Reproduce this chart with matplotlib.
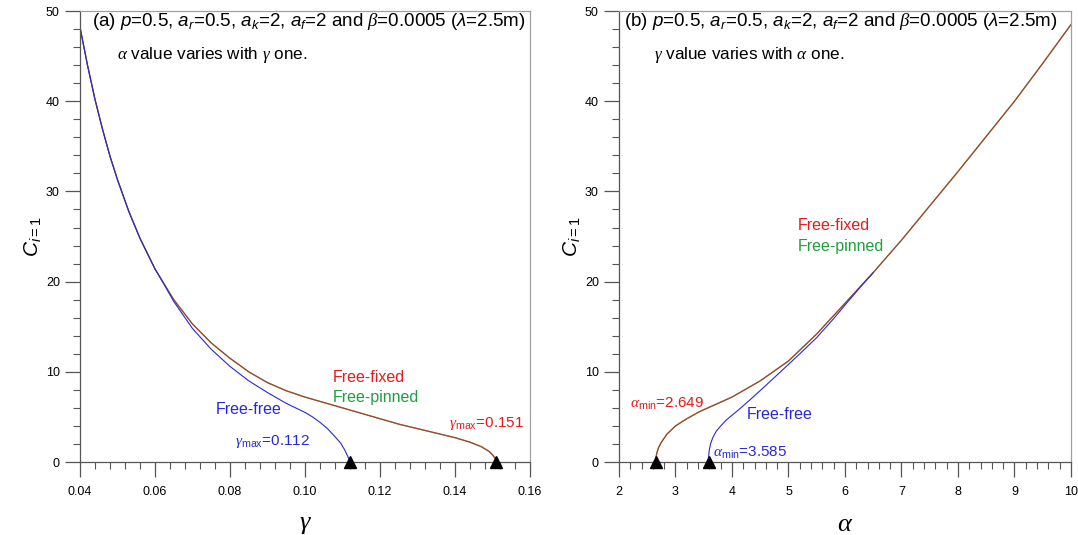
import matplotlib
matplotlib.use("Agg")
import matplotlib.pyplot as plt
from matplotlib.ticker import MultipleLocator, FormatStrFormatter

plt.rcParams['font.family'] = ['Liberation Sans', 'DejaVu Sans']
plt.rcParams['mathtext.fontset'] = 'custom'
plt.rcParams['mathtext.rm'] = 'Liberation Sans'
plt.rcParams['mathtext.it'] = 'Liberation Sans:italic'
plt.rcParams['mathtext.sf'] = 'Liberation Serif:italic'

# ---- panel (a): C vs gamma ----
gam_fixed = [0.040, 0.042, 0.044, 0.046, 0.048, 0.050, 0.053, 0.056, 0.060,
             0.065, 0.070, 0.075, 0.080, 0.085, 0.090, 0.095, 0.100, 0.105,
             0.110, 0.115, 0.120, 0.125, 0.130, 0.135, 0.140, 0.144, 0.147,
             0.149, 0.150, 0.1507, 0.151]
c_fixed_a = [48.2, 44.0, 40.2, 36.9, 33.9, 31.3, 27.8, 24.8, 21.4,
             18.0, 15.3, 13.2, 11.5, 10.0, 8.8, 7.9, 7.2, 6.6,
             6.0, 5.4, 4.8, 4.2, 3.7, 3.2, 2.7, 2.2, 1.7,
             1.2, 0.8, 0.4, 0.0]
gam_free = [0.040, 0.042, 0.044, 0.046, 0.048, 0.050, 0.053, 0.056, 0.060,
            0.062, 0.065, 0.070, 0.075, 0.080, 0.085, 0.090, 0.095, 0.100,
            0.102, 0.104, 0.106, 0.108, 0.1095, 0.1105, 0.1112, 0.1117, 0.112]
c_free_a = [48.2, 44.0, 40.2, 36.9, 33.9, 31.3, 27.8, 24.8, 21.4,
            20.0, 17.8, 14.8, 12.5, 10.6, 9.0, 7.7, 6.5, 5.5,
            5.0, 4.4, 3.7, 2.8, 2.1, 1.4, 0.8, 0.35, 0.0]

# ---- panel (b): C vs alpha ----
alp_fixed = [2.649, 2.655, 2.67, 2.70, 2.75, 2.85, 3.00, 3.20, 3.43, 4.00,
             4.50, 5.00, 5.50, 6.00, 6.50, 7.00, 7.50, 8.00, 8.50, 9.00,
             9.50, 10.0]
c_fixed_b = [0.0, 0.5, 1.0, 1.6, 2.2, 3.1, 4.0, 4.8, 5.6, 7.2,
             9.0, 11.2, 14.2, 17.6, 21.0, 24.6, 28.4, 32.2, 36.1, 40.0,
             44.2, 48.5]
alp_free = [3.585, 3.587, 3.595, 3.62, 3.66, 3.72, 3.80, 3.906, 4.10, 4.32,
            4.60, 4.91, 5.20, 5.50, 5.80, 6.00, 6.30, 6.50]
c_free_b = [0.0, 0.5, 1.2, 2.0, 2.7, 3.4, 4.0, 4.7, 5.7, 6.9,
            8.5, 10.3, 12.0, 13.8, 15.9, 17.4, 19.6, 21.0]

gam_max = [0.112, 0.151]
alp_min = [2.649, 3.585]

RED = '#e31a1c'
GREEN = '#1f9e3f'
BLUE = '#2828d8'

fig = plt.figure(figsize=(10.78, 5.35), dpi=100)
axa = fig.add_axes([0.0742, 0.1364, 0.4175, 0.843])
axb = fig.add_axes([0.5742, 0.1364, 0.4193, 0.843])


def style(ax):
    ax.set_ylim(0, 50)
    ax.yaxis.set_major_locator(MultipleLocator(10))
    ax.yaxis.set_minor_locator(MultipleLocator(2))
    ax.tick_params(which='major', length=10.5, width=0.9, color='#555555',
                   labelsize=9, direction='out')
    ax.tick_params(which='minor', length=5, width=0.8, color='#555555',
                   direction='out')
    ax.tick_params(axis='x', pad=7)
    ax.tick_params(axis='y', pad=4)
    for s in ['left', 'bottom']:
        ax.spines[s].set_color('#555555')
        ax.spines[s].set_linewidth(0.9)
    for s in ['top', 'right']:
        ax.spines[s].set_color('#a0a0a0')
        ax.spines[s].set_linewidth(0.9)
    ax.set_ylabel(r'$C_{i=1}$', fontsize=15, labelpad=1)


def curves(ax, xf, cf, xb, cb):
    ax.plot(xf, cf, color=GREEN, lw=0.9)
    ax.plot(xf, cf, color=RED, lw=0.9, alpha=0.7)
    ax.plot(xb, cb, color=BLUE, lw=0.8)


# panel (a)
style(axa)
axa.set_xlim(0.04, 0.16)
axa.xaxis.set_major_locator(MultipleLocator(0.02))
axa.xaxis.set_minor_locator(MultipleLocator(0.004))
axa.xaxis.set_major_formatter(FormatStrFormatter('%.2f'))
curves(axa, gam_fixed, c_fixed_a, gam_free, c_free_a)
axa.plot(gam_max, [0, 0], '^', color='black', ms=9, clip_on=False, zorder=5)
axa.set_xlabel(r'$\mathsf{\gamma}$', fontsize=19, labelpad=10)
axa.text(0.027, 0.976, r'(a) $p$=0.5, $a_r$=0.5, $a_k$=2, $a_f$=2 and $\mathsf{\beta}$=0.0005 ($\lambda$=2.5m)',
         transform=axa.transAxes, fontsize=13.5, va='center', ha='left')
axa.text(0.082, 0.902, r'$\mathsf{\alpha}$ value varies with $\mathsf{\gamma}$ one.',
         transform=axa.transAxes, fontsize=12.3, va='center', ha='left')
axa.text(0.1075, 9.4, 'Free-fixed', color=RED, fontsize=11.5, va='center')
axa.text(0.1075, 7.2, 'Free-pinned', color=GREEN, fontsize=11.5, va='center')
axa.text(0.0763, 5.8, 'Free-free', color=BLUE, fontsize=11.5, va='center')
axa.text(0.0812, 2.3, r'$\mathsf{\gamma}_{\rm max}$=0.112', color=BLUE, fontsize=11, va='center')
axa.text(0.1383, 4.3, r'$\mathsf{\gamma}_{\rm max}$=0.151', color=RED, fontsize=11, va='center')

# panel (b)
style(axb)
axb.set_xlim(2, 10)
axb.xaxis.set_major_locator(MultipleLocator(1))
axb.xaxis.set_minor_locator(MultipleLocator(0.2))
curves(axb, alp_fixed, c_fixed_b, alp_free, c_free_b)
axb.plot(alp_min, [0, 0], '^', color='black', ms=9, clip_on=False, zorder=5)
axb.set_xlabel(r'$\mathsf{\alpha}$', fontsize=19, labelpad=10)
axb.text(0.011, 0.976, r'(b) $p$=0.5, $a_r$=0.5, $a_k$=2, $a_f$=2 and $\mathsf{\beta}$=0.0005 ($\lambda$=2.5m)',
         transform=axb.transAxes, fontsize=13.5, va='center', ha='left')
axb.text(0.077, 0.902, r'$\mathsf{\gamma}$ value varies with $\mathsf{\alpha}$ one.',
         transform=axb.transAxes, fontsize=12.3, va='center', ha='left')
axb.text(5.17, 26.2, 'Free-fixed', color=RED, fontsize=11.5, va='center')
axb.text(5.17, 23.9, 'Free-pinned', color=GREEN, fontsize=11.5, va='center')
axb.text(4.27, 5.3, 'Free-free', color=BLUE, fontsize=11.5, va='center')
axb.text(2.19, 6.5, r'$\mathsf{\alpha}_{\rm min}$=2.649', color=RED, fontsize=11, va='center')
axb.text(3.66, 1.0, r'$\mathsf{\alpha}_{\rm min}$=3.585', color=BLUE, fontsize=11, va='center')

fig.savefig('out.png', dpi=100)
